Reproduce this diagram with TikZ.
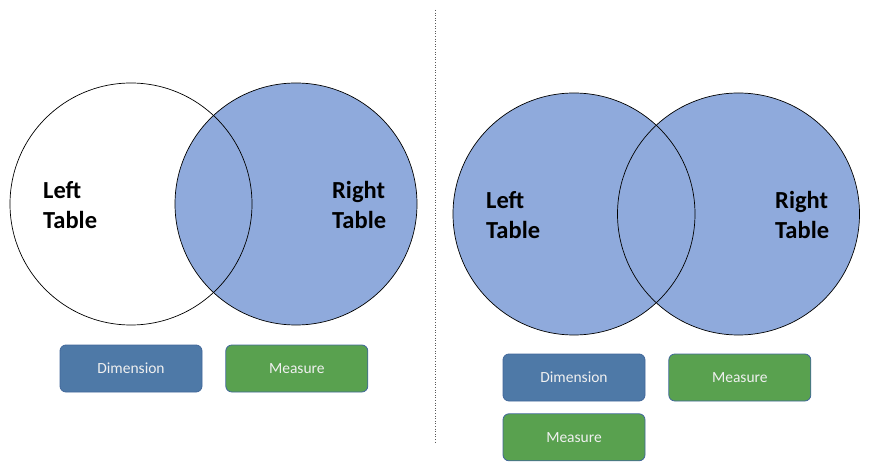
\documentclass[tikz,border=0pt]{standalone}
\usepackage{fontspec}
\setmainfont{Carlito}
\usetikzlibrary{positioning}
\definecolor{setblue}{HTML}{8FAADC}
\definecolor{dimblue}{HTML}{4E79A7}
\definecolor{measgreen}{HTML}{59A14F}
\definecolor{edgeblue}{HTML}{41679A}
\tikzset{
  set/.style={circle, minimum size=242pt, inner sep=0pt, line width=0.7pt},
  label/.style={align=left, anchor=west, inner sep=0pt, font=\fontsize{24.5}{30}\selectfont\bfseries},
  box/.style={draw=edgeblue, rounded corners=6pt, line width=0.8pt, minimum width=142pt, minimum height=47pt,
    inner sep=0pt, text=white!94!black, font=\fontsize{15.5}{18}\selectfont},
  dimbox/.style={box, fill=dimblue},
  measbox/.style={box, fill=measgreen}
}
\begin{document}
\begin{tikzpicture}[x=1pt, y=-1pt, node distance=12pt and 23pt]
  \useasboundingbox (0,0) rectangle (870,470);

  % left join
  \node[set, draw, fill=setblue] (rtA) at (296,204) {};
  \node[set, draw] (ltA) at (131,204) {};
  \node[label] (ltAtext) at (43,205) {Left\\Table};
  \node[label] (rtAtext) at (332,205) {Right\\Table};
  \node[dimbox] (dimA) at (131,368.5) {Dimension};
  \node[measbox, right=of dimA] (measA) {Measure};

  % divider
  \coordinate (divtop) at (435,10);
  \coordinate (divbot) at (435,442);
  \draw[dotted, gray!70!black, line width=0.6pt] (divtop) -- (divbot);

  % full join
  \node[set, fill=setblue] (ltB) at (574,214) {};
  \node[set, fill=setblue] (rtB) at (738.5,214) {};
  \draw[line width=0.7pt] (ltB) circle[radius=121pt];
  \draw[line width=0.7pt] (rtB) circle[radius=121pt];
  \node[label] (ltBtext) at (486,215) {Left\\Table};
  \node[label] (rtBtext) at (775,215) {Right\\Table};
  \node[dimbox] (dimB) at (574,377.5) {Dimension};
  \node[measbox, right=of dimB] (measB) {Measure};
  \node[measbox, below=of dimB] (measC) {Measure};
\end{tikzpicture}
\end{document}
